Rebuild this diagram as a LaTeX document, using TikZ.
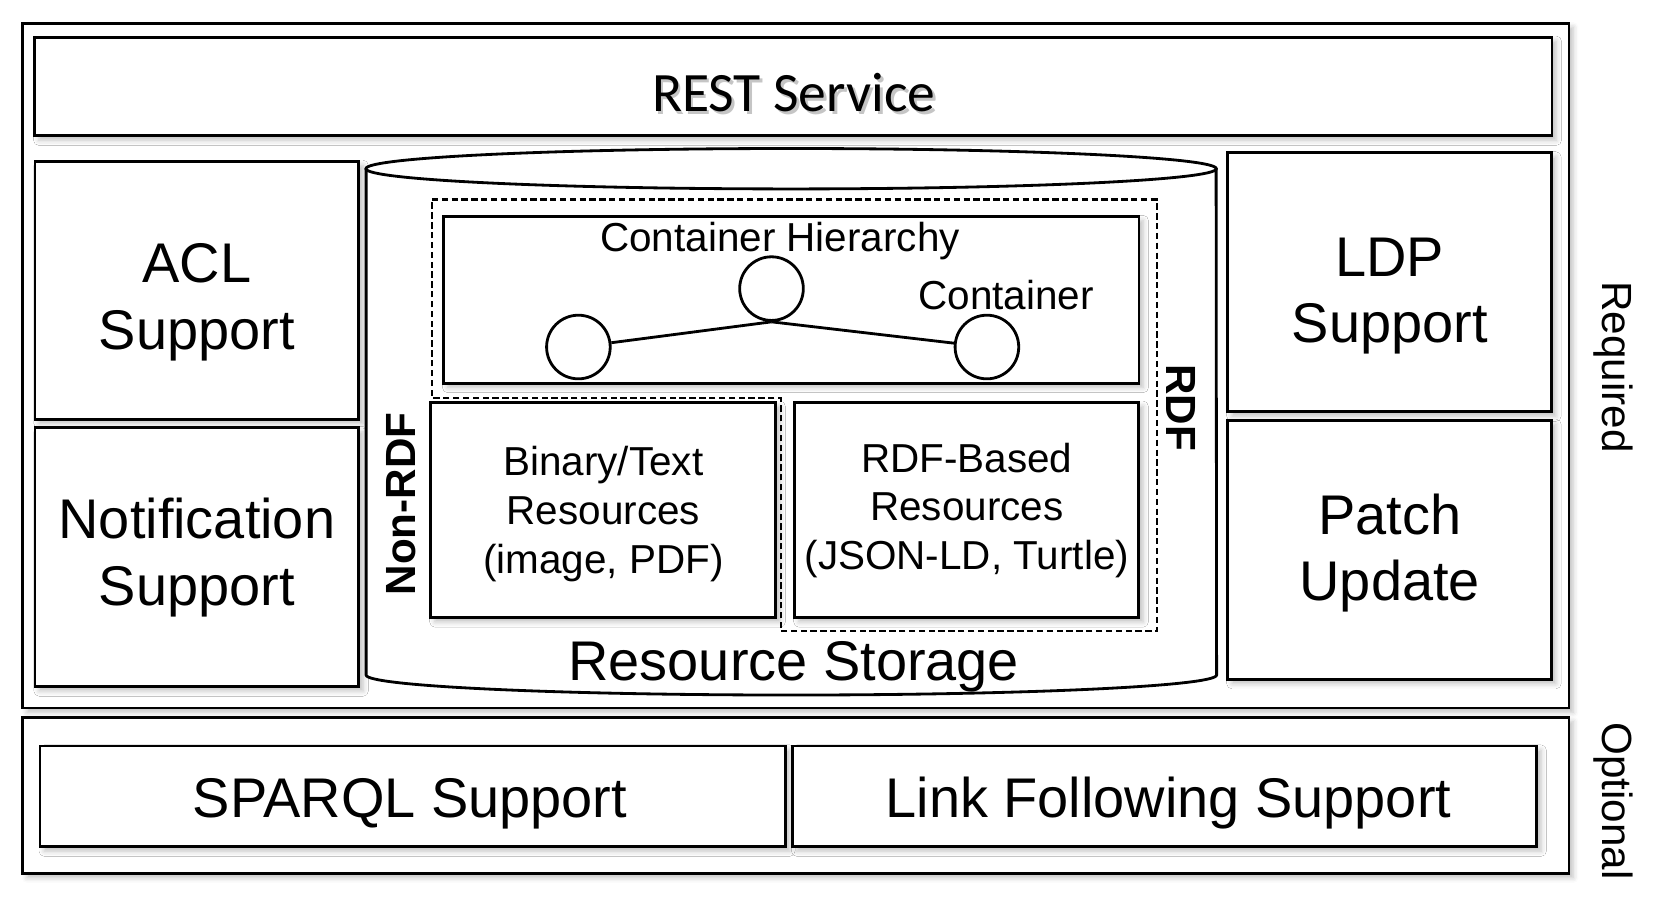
\documentclass[tikz,border=0pt]{standalone}
\usepackage{fontspec}
\setmainfont{Liberation Sans}
\newfontfamily\restfont{Carlito}
\usepackage{tikz}
\usetikzlibrary{shadows.blur}

\begin{document}
\begin{tikzpicture}[x=0.01cm, y=-0.01cm,
    box/.style={draw, line width=0.8pt, fill=white, align=center,
        blur shadow={shadow xshift=1.2pt, shadow yshift=-1.2pt, shadow blur radius=1.5pt, shadow opacity=25}},
    bigtxt/.style={font=\fontsize{15.9}{19}\selectfont, align=center},
    midtxt/.style={font=\fontsize{11.5}{13.8}\selectfont, align=center},
    sidetxt/.style={font=\fontsize{12}{14}\selectfont},
    circ/.style={draw, circle, line width=0.8pt, fill=white, minimum size=0.636cm, inner sep=0pt}]

    \useasboundingbox (0,0) rectangle (1664,902);

    % outer frames
    \node[box, minimum width=15.452cm, minimum height=6.845cm] (req) at (795.9,365.6) {};
    \node[box, minimum width=15.452cm, minimum height=1.56cm] (opt) at (795.9,795.4) {};
    \node[sidetxt, rotate=-90] (reqlbl) at (1613,367) {Required};
    \node[sidetxt, rotate=-90] (optlbl) at (1613,801) {Optional};

    % rest service
    \node[box, minimum width=15.165cm, minimum height=0.987cm] (rest) at (793.3,86.5) {};
    \node[font=\restfont\fontsize{15.8}{19}\selectfont, text=black!45, opacity=0.5] (restsh) at (796.5,96) {REST Service};
    \node[font=\restfont\fontsize{15.8}{19}\selectfont] (restlbl) at (793.8,92.3) {REST Service};

    % left / right columns
    \node[box, minimum width=3.237cm, minimum height=2.579cm] (acl) at (196.9,290.3) {};
    \node[bigtxt] (acllbl) at (196.9,302) {ACL\\Support};
    \node[box, minimum width=3.237cm, minimum height=2.589cm] (notif) at (196.9,557.2) {};
    \node[bigtxt] (notiflbl) at (196.9,557.2) {Notification\\Support};
    \node[box, minimum width=3.237cm, minimum height=2.589cm] (ldp) at (1389.7,282.3) {};
    \node[bigtxt] (ldplbl) at (1389.7,296) {LDP\\Support};
    \node[box, minimum width=3.237cm, minimum height=2.59cm] (patch) at (1389.7,549.7) {};
    \node[bigtxt] (patchlbl) at (1389.7,553) {Patch\\Update};

    % resource storage cylinder
    \draw[line width=0.8pt, fill=white] (366.1,168.7) -- (366.1,675)
        arc[start angle=180, end angle=360, x radius=4.25cm, y radius=0.2cm]
        -- (1216.1,168.7);
    \draw[line width=0.8pt, fill=white] (791.1,168.7) ellipse[x radius=4.25cm, y radius=0.202cm];
    \node[bigtxt] (store) at (793.8,667) {Resource Storage};

    % rdf region
    \draw[line width=0.6pt, dash pattern=on 1.8pt off 1pt]
        (431.9,199.5) -- (1156.7,199.5) -- (1156.7,631.4) -- (780.6,631.4)
        -- (780.6,398) -- (431.9,398) -- cycle;
    \node[font=\fontsize{12}{14}\selectfont\bfseries, rotate=-90] (rdflbl) at (1181,407.5) {RDF};
    \node[font=\fontsize{12}{14}\selectfont\bfseries, rotate=90] (nonrdf) at (401,504) {Non-RDF};

    % container hierarchy
    \node[box, minimum width=6.951cm, minimum height=1.666cm] (hier) at (791.2,299.8) {};
    \node[midtxt] (hierlbl) at (780,240.6) {Container Hierarchy};
    \node[midtxt] (contlbl) at (1006,295) {Container};
    \node[circ] (c1) at (578.4,347) {};
    \node[circ] (c2) at (771.5,288.6) {};
    \node[circ] (c3) at (986.9,347) {};
    \draw[line width=0.8pt] (c1) -- (c2.south);
    \draw[line width=0.8pt] (c2.south) -- (c3);

    % resources
    \node[box, minimum width=3.449cm, minimum height=2.154cm] (bin) at (603.3,509.9) {};
    \node[midtxt] (binlbl) at (603.3,514) {Binary/Text\\Resources\\(image, PDF)};
    \node[box, minimum width=3.439cm, minimum height=2.154cm] (rdfres) at (966.8,509.9) {};
    \node[midtxt] (rdfreslbl) at (966.8,510.5) {RDF-Based\\Resources\\(JSON-LD, Turtle)};

    % optional features
    \node[box, minimum width=7.45cm, minimum height=1.008cm] (sparql) at (412.8,796.4) {};
    \node[bigtxt] (sparqllbl) at (410,803.5) {SPARQL Support};
    \node[box, minimum width=7.439cm, minimum height=1.008cm] (link) at (1164.7,796.4) {};
    \node[bigtxt] (linklbl) at (1168.5,803.5) {Link Following Support};

\end{tikzpicture}
\end{document}
